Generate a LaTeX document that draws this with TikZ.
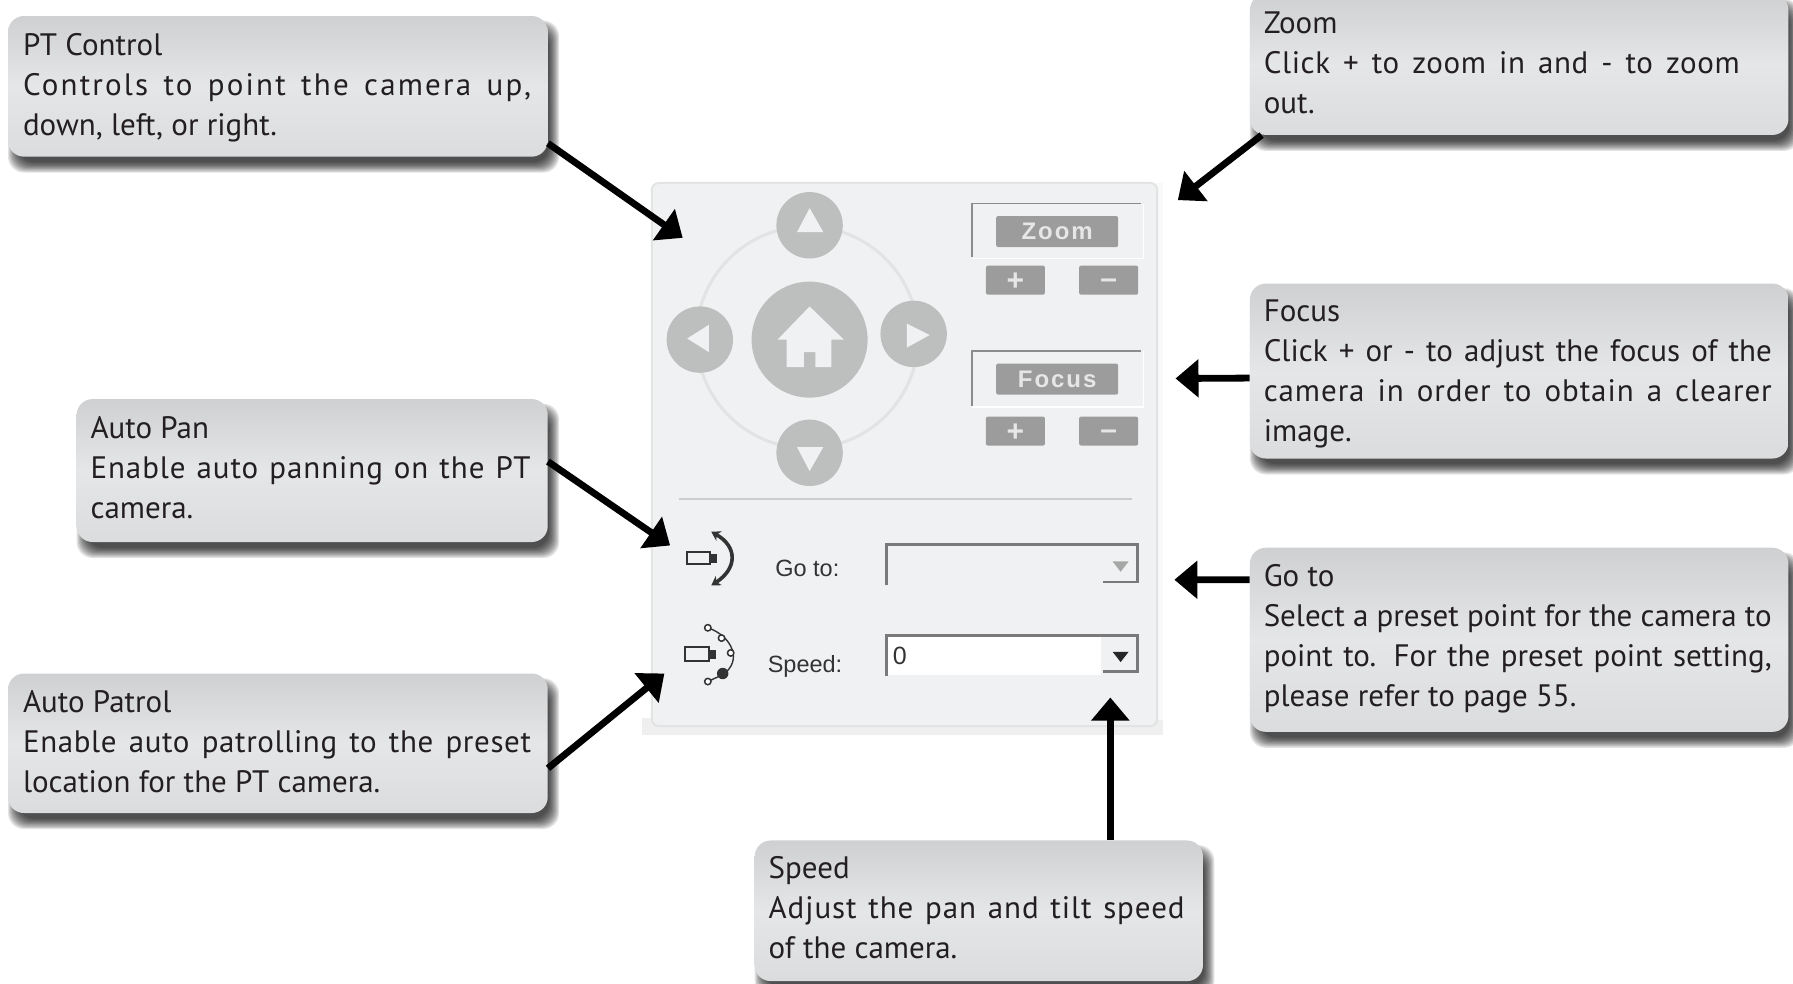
\documentclass[tikz,border=0pt]{standalone}
\usepackage{fontspec}
\setmainfont{PT Sans}
\newfontfamily\uifont{Liberation Sans}
\usetikzlibrary{arrows.meta}
\newcommand{\jl}[3][0]{{\spaceskip=0pt\xspaceskip=0pt\addfontfeature{LetterSpace=#1}\makebox[#2pt][s]{#3}}}
\tikzset{
  x=1.1435pt,y=-1.1435pt,
  calloutbox/.style={rectangle,rounded corners=16pt,inner sep=0pt,top color=cgtop,bottom color=cgbot,middle color=cgmid},
  callouttext/.style={anchor=north west,inner sep=0pt,align=flush left,text=inkblack,font=\fontsize{31}{40}\selectfont},
  pointer/.style={line width=6.8pt,-{Triangle[length=23pt,width=37pt]},black},
  btn/.style={circle,fill=btngrey,inner sep=0pt},
  glyph/.style={fill=panelbg},
  keycap/.style={rectangle,rounded corners=2pt,fill=keygrey,inner sep=0pt,text=keytext},
  keylabel/.style={keycap,minimum width=122pt,minimum height=31pt,font=\uifont\bfseries\fontsize{24}{28}\selectfont\addfontfeature{LetterSpace=8}},
  keysmall/.style={keycap,minimum width=59pt,minimum height=29pt,font=\uifont\bfseries\fontsize{30}{30}\selectfont},
  uilabel/.style={font=\uifont\fontsize{23.5}{28}\selectfont,text=uitext,inner sep=0pt},
  framedark/.style={draw=framegrey,line width=1.3pt},
  comboedge/.style={draw=combogrey,line width=2.6pt},
  icon/.style={draw=icongrey,line width=2.2pt},
}
\definecolor{inkblack}{HTML}{231F20}
\definecolor{cgtop}{HTML}{CFD0D2}
\definecolor{cgmid}{HTML}{E5E6E8}
\definecolor{cgbot}{HTML}{DBDCDE}
\definecolor{panelbg}{HTML}{EFF1F2}
\definecolor{panelback}{HTML}{EFEFEF}
\definecolor{panelline}{HTML}{E2E3E3}
\definecolor{btngrey}{HTML}{BDBEBE}
\definecolor{keygrey}{HTML}{9C9C9C}
\definecolor{keytext}{HTML}{E6E6E6}
\definecolor{uitext}{HTML}{333333}
\definecolor{framegrey}{HTML}{8C8C8C}
\definecolor{combogrey}{HTML}{7A7A7A}
\definecolor{icongrey}{HTML}{333333}
% name, x1,y1,x2,y2, text x, first baseline y, content
\newcommand{\callout}[8]{%
  \foreach \g in {5,4,...,-4}{%
    \fill[black,opacity=.11,rounded corners=16pt] (#2+5-\g,#3+9-\g) rectangle (#4+5+\g,#5+9+\g);
  }%
  \node[calloutbox,minimum width={(#4-#2)*1.1435pt},minimum height={(#5-#3)*1.1435pt}]
     (#1) at ({(#2+#4)/2},{(#3+#5)/2}) {};
  \node[callouttext,text width={(#4-#6-5)*1.1435pt}] (#1text) at (#6,#7-24.5) {\strut #8};
}
\begin{document}
\begin{tikzpicture}
\useasboundingbox (0,0) rectangle (1568,860);
\clip (0,0) rectangle (1568,860);
% panel
\fill[fill=panelback] (561,628) rectangle (1017,643);
\fill[fill=panelback!40] (1010,160) rectangle (1017,630);
\draw[fill=panelbg,draw=panelline,line width=2pt,rounded corners=7pt] (570,160) rectangle (1012,635);
% ring
\draw[panelline,line width=3pt] (706,295) circle (97);
\node[btn,minimum size=66.4pt] (up) at (708,197) {};
\node[btn,minimum size=66.4pt] (down) at (708,396) {};
\node[btn,minimum size=66.4pt] (left) at (612,297) {};
\node[btn,minimum size=66.4pt] (right) at (799,292) {};
\node[btn,minimum size=116pt] (home) at (708,297) {};
\fill[glyph] (708,182)--(720,203)--(697,203)--cycle;
\fill[glyph] (708,412)--(720,391)--(697,391)--cycle;
\fill[glyph] (601,296)--(620,284)--(620,308)--cycle;
\fill[glyph] (813,293)--(793,283)--(793,304)--cycle;
\fill[glyph] (708,268)--(738,297)--(727,297)--(727,321)--(713,321)--(713,308)--(703,308)--(703,321)--(688,321)--(688,297)--(680,297)--cycle;
% zoom group
\draw[white,line width=1.5pt] (850,226)--(1000,226)--(1000,178);
\draw[framedark] (850,225)--(850,178)--(998,178);
\node[keylabel] (zoomkey) at (924.5,202.5) {Zoom};
\node[keysmall] (zoomplus) at (888,245) {\raisebox{-10pt}[0pt][0pt]{+}};
\node[keysmall] (zoomminus) at (969.5,245) {\raisebox{-8pt}[0pt][0pt]{–}};
% focus group
\draw[white,line width=1.5pt] (850,356)--(1000,356)--(1000,307);
\draw[framedark] (850,355)--(850,307)--(998,307);
\node[keylabel] (focuskey) at (924.5,331.5) {Focus};
\node[keysmall] (focusplus) at (888,377) {\raisebox{-10pt}[0pt][0pt]{+}};
\node[keysmall] (focusminus) at (969.5,377) {\raisebox{-8pt}[0pt][0pt]{–}};
% separator
\draw[panelline!90!black,line width=2pt] (594,436)--(990,436);
% auto pan icon
\draw[icon] (601,483) rectangle (621,493);
\fill[icongrey] (621,484.5) rectangle (627,492);
\draw[icongrey,line width=3.6pt,{Stealth[length=9pt,width=11pt]}-{Stealth[length=9pt,width=11pt]}] (622,465) .. controls (645,478) and (645,497) .. (622,512);
% auto patrol icon
\draw[icon] (599,566) rectangle (620,578);
\fill[icongrey] (620,568) rectangle (626,576);
\draw[icongrey,line width=1.4pt] (619,549) .. controls (640,556) and (650,578) .. (632,590) -- (619,596);
\foreach \p in {(619,549),(631,558),(639,571),(619,596)}{\draw[icon,fill=white,line width=1.5pt] \p circle (2.8);}
\fill[icongrey] (632,589) circle (5);
% go to / speed
\node[uilabel] (gotolabel) at (706,497) {Go to:};
\node[uilabel] (speedlabel) at (704,583) {Speed:};
\draw[comboedge] (775,512)--(775,476)--(995,476)--(995,509)--(965,509);
\fill[gray!70] (973,491)--(987,491)--(980,500)--cycle;
\fill[white] (776,557) rectangle (963,590);
\draw[comboedge] (775,591)--(775,556)--(995,556)--(995,587)--(965,587);
\node[font=\uifont\fontsize{25}{26}\selectfont,text=uitext,inner sep=0pt] (speedval) at (787,574) {0};
\fill[black!85] (973,570)--(987,570)--(980,579)--cycle;
% callouts
\callout{pt}{7}{14}{479}{137}{20}{48}{PT Control\\\jl[7]{508}{Controls to point the camera up,}\\down, left, or right.}
\callout{zoom}{1093}{-5}{1564}{118}{1105}{29}{Zoom\\\jl[2]{476}{Click + to zoom in and - to zoom}\\out.}
\callout{focus}{1093}{248}{1564}{401}{1105}{281}{Focus\\\jl[0]{508}{Click + or - to adjust the focus of the}\\\jl[3]{508}{camera in order to obtain a clearer}\\image.}
\callout{goto}{1093}{479}{1564}{640}{1105}{513}{Go to\\\jl{508}{Select a preset point for the camera to}\\\jl[0]{508}{point to. For the preset point setting,}\\please refer to page 55.}
\callout{speed}{660}{735}{1052}{858}{672}{768}{Speed\\\jl[3]{416}{Adjust the pan and tilt speed}\\of the camera.}
\callout{pan}{67}{349}{479}{474}{79}{383}{Auto Pan\\\jl[3]{440}{Enable auto panning on the PT}\\camera.}
\callout{patrol}{7}{589}{479}{711}{20}{623}{Auto Patrol\\\jl[2]{508}{Enable auto patrolling to the preset}\\location for the PT camera.}
% arrow ends
\coordinate (ptend) at (597,208);
\coordinate (zoomend) at (1030,175);
\coordinate (focusend) at (1028,331);
\coordinate (gotoend) at (1027,507);
\coordinate (speedend) at (971,610);
\coordinate (panend) at (586,477);
\coordinate (patrolend) at (581,589);
\draw[pointer] ([yshift=-57pt]pt.east) -- (ptend);
\draw[pointer] ([xshift=12pt]zoom.south west) -- (zoomend);
\draw[pointer] ([yshift=-7pt]focus.west) -- (focusend);
\draw[pointer] ([yshift=60pt]goto.west) -- (gotoend);
\draw[pointer] ([xshift={(971-856)*1.1435pt}]speed.north) -- (speedend);
\draw[pointer] ([yshift=9pt]pan.east) -- (panend);
\draw[pointer] ([yshift=-25pt]patrol.east) -- (patrolend);
\end{tikzpicture}
\end{document}
